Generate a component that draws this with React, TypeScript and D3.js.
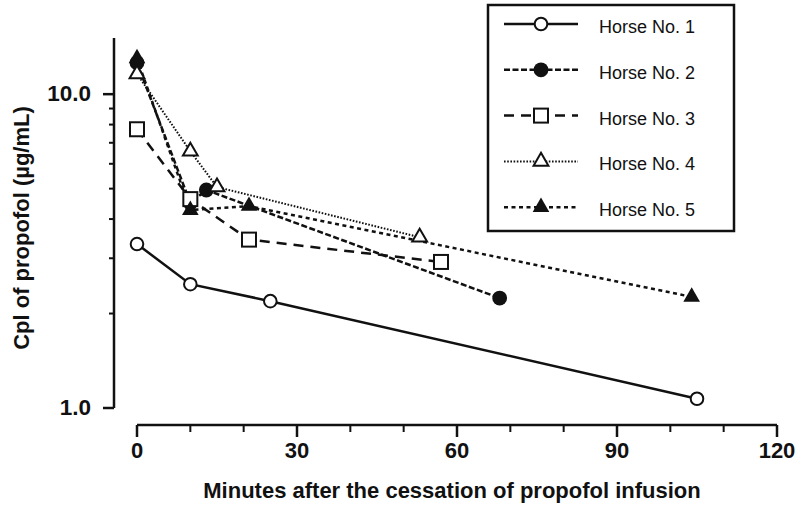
import React from 'react';
import * as d3 from 'd3';

// minutes after the end of infusion, and plasma propofol (ug/mL)
const horse1Min = [0, 10, 25, 105];
const horse1Cpl = [3.33, 2.48, 2.19, 1.07];
const horse2Min = [0, 10, 13, 68];
const horse2Cpl = [12.6, 4.5, 4.95, 2.24];
const horse3Min = [0, 10, 21, 57];
const horse3Cpl = [7.73, 4.63, 3.44, 2.92];
const horse4Min = [0, 10, 15, 53];
const horse4Cpl = [11.6, 6.58, 5.06, 3.5];
const horse5Min = [0, 10, 21, 104];
const horse5Cpl = [13.0, 4.27, 4.4, 2.26];

const horseNames = ['Horse No. 1', 'Horse No. 2', 'Horse No. 3', 'Horse No. 4', 'Horse No. 5'];
const xMajorTicks = [0, 30, 60, 90, 120];
const xMinorTicks = [10, 20, 40, 50, 70, 80, 100, 110];
const yMajorTicks = [1, 10];
const yMinorTicks = [2, 3, 4, 5, 6, 7, 8, 9];

const INK = '#111';
const FONT = '"Liberation Sans", Arial, Helvetica, sans-serif';

type Style = { dash: string; width: number; marker: string };
const styles: Style[] = [
  { dash: '', width: 2.5, marker: 'openCircle' },
  { dash: '6,2.5', width: 2.5, marker: 'filledCircle' },
  { dash: '10,7', width: 2.5, marker: 'openSquare' },
  { dash: '1.6,1.6', width: 2, marker: 'openTriangle' },
  { dash: '4,3.5', width: 2.5, marker: 'filledTriangle' },
];

function Marker({ kind, x, y }: { kind: string; x: number; y: number }) {
  if (kind === 'openCircle')
    return <circle cx={x} cy={y} r={6.3} fill="#fff" stroke={INK} strokeWidth={2} />;
  if (kind === 'filledCircle') return <circle cx={x} cy={y} r={7.4} fill={INK} />;
  if (kind === 'openSquare')
    return <rect x={x - 7} y={y - 7} width={14} height={14} fill="#fff" stroke={INK} strokeWidth={2} />;
  const tri = d3.symbol().type(d3.symbolTriangle).size(kind === 'openTriangle' ? 95 : 120)();
  if (kind === 'openTriangle')
    return <path d={tri || ''} transform={`translate(${x},${y})`} fill="#fff" stroke={INK} strokeWidth={2} />;
  return <path d={tri || ''} transform={`translate(${x},${y})`} fill={INK} />;
}

export default function App() {
  const width = 797;
  const height = 514;

  const x = d3.scaleLinear().domain([0, 120]).range([137, 777]);
  const y = d3.scaleLog().domain([1, 15.1]).range([408, 38]);
  const xAxisY = 425;
  const yAxisX = 114;

  const series = [
    [horse1Min, horse1Cpl],
    [horse2Min, horse2Cpl],
    [horse3Min, horse3Cpl],
    [horse4Min, horse4Cpl],
    [horse5Min, horse5Cpl],
  ].map(([mins, cpl]) => mins.map((m, i) => [m, cpl[i]] as [number, number]));

  const line = d3.line<[number, number]>().x((d) => x(d[0])).y((d) => y(d[1]));

  const legendX = 488;
  const legendY = 5;
  const rowY = (i: number) => 24 + i * 45.8;

  return (
    <svg width={width} height={height} style={{ position: 'absolute', left: 0, top: 0, background: '#fff' }} fontFamily={FONT}>
      {/* y axis */}
      <line x1={yAxisX} x2={yAxisX} y1={y(15.1)} y2={y(1)} stroke={INK} strokeWidth={2.5} />
      {yMajorTicks.map((t) => (
        <g key={'ym' + t}>
          <line x1={yAxisX - 11} x2={yAxisX} y1={y(t)} y2={y(t)} stroke={INK} strokeWidth={2.5} />
          <text x={91} y={y(t) + 7} textAnchor="end" fontSize={22.5} fontWeight="bold" fill={INK}>
            {t.toFixed(1)}
          </text>
        </g>
      ))}
      {yMinorTicks.map((t) => (
        <line key={'yn' + t} x1={yAxisX - 5} x2={yAxisX} y1={y(t)} y2={y(t)} stroke={INK} strokeWidth={2} />
      ))}
      <text transform="translate(29,228) rotate(-90)" textAnchor="middle" fontSize={22} fontWeight="bold" fill={INK}>
        Cpl of propofol (µg/mL)
      </text>

      {/* x axis */}
      <line x1={x(0)} x2={x(120)} y1={xAxisY} y2={xAxisY} stroke={INK} strokeWidth={2.5} />
      {xMajorTicks.map((t) => (
        <g key={'xm' + t}>
          <line x1={x(t)} x2={x(t)} y1={xAxisY} y2={xAxisY + 12} stroke={INK} strokeWidth={2.5} />
          <text x={x(t)} y={458} textAnchor="middle" fontSize={22} fontWeight="bold" fill={INK}>
            {t}
          </text>
        </g>
      ))}
      {xMinorTicks.map((t) => (
        <line key={'xn' + t} x1={x(t)} x2={x(t)} y1={xAxisY} y2={xAxisY + 7} stroke={INK} strokeWidth={2} />
      ))}
      <text x={452} y={498} textAnchor="middle" fontSize={22} fontWeight="bold" fill={INK}>
        Minutes after the cessation of propofol infusion
      </text>

      {/* series lines */}
      {series.map((pts, i) => (
        <path
          key={'l' + i}
          d={line(pts) || ''}
          fill="none"
          stroke={INK}
          strokeWidth={styles[i].width}
          strokeDasharray={styles[i].dash || undefined}
        />
      ))}
      {series.map((pts, i) =>
        pts.map((p, j) => <Marker key={`m${i}-${j}`} kind={styles[i].marker} x={x(p[0])} y={y(p[1])} />)
      )}

      {/* legend */}
      <rect x={legendX} y={legendY} width={246} height={226} fill="#fff" stroke={INK} strokeWidth={2.5} />
      {horseNames.map((name, i) => (
        <g key={'lg' + i}>
          <line
            x1={504}
            x2={578}
            y1={rowY(i)}
            y2={rowY(i)}
            stroke={INK}
            strokeWidth={styles[i].width}
            strokeDasharray={styles[i].dash || undefined}
          />
          <Marker kind={styles[i].marker} x={541} y={rowY(i)} />
          <text x={599} y={rowY(i) + 9} fontSize={18} fill={INK}>
            {name}
          </text>
        </g>
      ))}
    </svg>
  );
}
